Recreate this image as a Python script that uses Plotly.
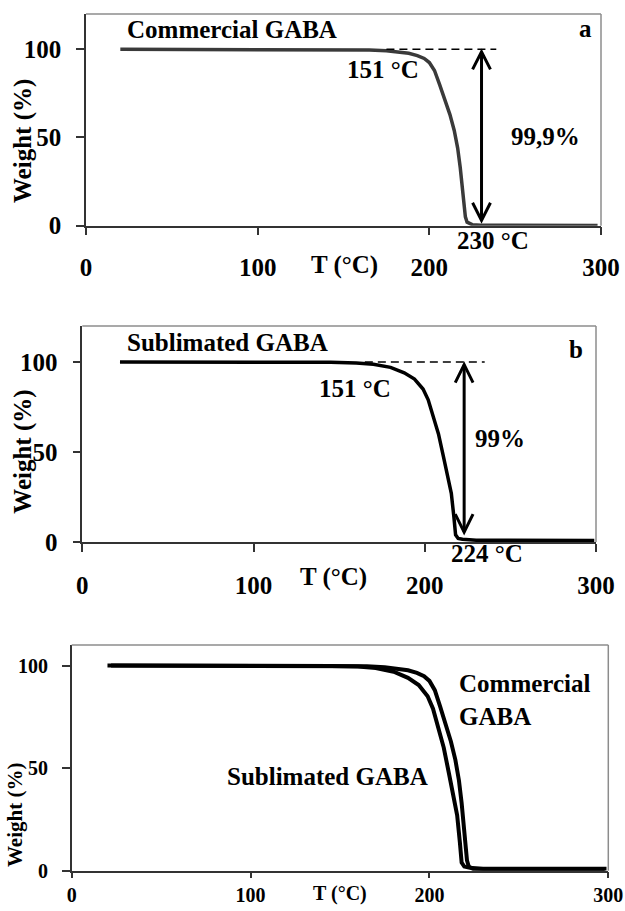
import plotly.graph_objects as go

# ---------------- data ----------------
T_commercial = [20, 60, 100, 130, 150, 165, 175, 182, 188, 193, 197, 200, 203, 206, 209, 212,
                214.5, 216.5, 218, 219.2, 220.2, 221, 222, 225, 230, 250, 270, 298]
W_commercial = [100, 100, 100, 100, 99.9, 99.6, 99.2, 98.6, 97.7, 96.4, 94.8, 92.5, 88, 80, 72, 63,
                54, 44, 33, 22, 12, 5, 2, 0.6, 0.3, 0.2, 0.2, 0.1]

T_sublimated = [22, 60, 100, 130, 145, 160, 170, 180, 188, 194, 199, 202, 205, 208, 211, 213.5,
                215.5, 217, 218, 219.5, 222, 230, 260, 299]
W_sublimated = [100, 100, 100, 99.9, 99.8, 99.5, 98.8, 97, 94, 90.5, 85, 79, 70, 60, 47, 37,
                27, 14, 4, 2, 1.5, 1.0, 0.9, 0.9]

x_ticks = [0, 100, 200, 300]
y_ticks = [0, 50, 100]

onset_T = 151
dash_a = [175, 239]
dash_b = [165, 235]
arrow_a = dict(T=230.4, top=98.6, bottom=3)
arrow_b = dict(T=223, top=98.5, bottom=5.5)

FONT = "Liberation Serif"
W, H = 625, 911

# pixel boxes of the three plot areas (left, right, top, bottom)
boxes = {
    "a": (86, 601, 14, 225.7),
    "b": (82.3, 596, 326, 542),
    "c": (71.7, 608.3, 645, 870.7),
}

fig = go.Figure()


def dom(box):
    l, r, t, b = box
    return [l / W, r / W], [1 - b / H, 1 - t / H]


axis_ids = {"a": ("x", "y", "xaxis", "yaxis"),
            "b": ("x2", "y2", "xaxis2", "yaxis2"),
            "c": ("x3", "y3", "xaxis3", "yaxis3")}
yranges = {"a": [0, 120], "b": [0, 120], "c": [0, 110]}
tick_size = {"a": 25, "b": 25, "c": 20}
xstand = {"a": 11, "b": 12, "c": 0}
xticklen = {"a": 8, "b": 8, "c": 6}

layout = dict(width=W, height=H, margin=dict(l=0, r=0, t=0, b=0),
              paper_bgcolor="white", plot_bgcolor="white", showlegend=False,
              font=dict(family=FONT, color="black"))

for p, box in boxes.items():
    xd, yd = dom(box)
    xr, yr, xa, ya = axis_ids[p]
    layout[xa] = dict(domain=xd, range=[0, 300], tickvals=x_ticks, ticks="outside", ticklen=xticklen[p],
                      tickwidth=1.5, tickcolor="#333", showline=True, linecolor="#333", linewidth=1.5,
                      showgrid=False, zeroline=False, anchor=yr, automargin=False,
                      ticklabelstandoff=xstand[p],
                      tickfont=dict(family=FONT, size=tick_size[p], color="black", weight="bold"))
    layout[ya] = dict(domain=yd, range=yranges[p], tickvals=y_ticks, ticks="outside", ticklen=8,
                      tickwidth=1.5, tickcolor="#333", showline=True, linecolor="#333", linewidth=1.5,
                      showgrid=False, zeroline=False, anchor=xr, automargin=False,
                      ticklabelstandoff=10,
                      tickfont=dict(family=FONT, size=tick_size[p], color="black", weight="bold"))

fig.update_layout(**layout)

# curves
fig.add_trace(go.Scatter(x=T_commercial, y=W_commercial, mode="lines", xaxis="x", yaxis="y",
                         line=dict(color="#3a3a3a", width=3.5), cliponaxis=False))
fig.add_trace(go.Scatter(x=T_sublimated, y=W_sublimated, mode="lines", xaxis="x2", yaxis="y2",
                         line=dict(color="black", width=3.5), cliponaxis=False))
fig.add_trace(go.Scatter(x=T_commercial, y=W_commercial, mode="lines", xaxis="x3", yaxis="y3",
                         line=dict(color="black", width=4), cliponaxis=False))
fig.add_trace(go.Scatter(x=T_sublimated, y=W_sublimated, mode="lines", xaxis="x3", yaxis="y3",
                         line=dict(color="black", width=4), cliponaxis=False))

shapes = []
# top / right border lines in gray
for p in boxes:
    xr, yr, _, _ = axis_ids[p]
    shapes.append(dict(type="line", xref=f"{xr} domain", yref=f"{yr} domain", x0=0, x1=1, y0=1, y1=1,
                       line=dict(color="#8c8c8c", width=1.5)))
    shapes.append(dict(type="line", xref=f"{xr} domain", yref=f"{yr} domain", x0=1, x1=1, y0=0, y1=1,
                       line=dict(color="#8c8c8c", width=1.5)))

# dashed reference lines
for (xr, yr, d) in [("x", "y", dash_a), ("x2", "y2", dash_b)]:
    shapes.append(dict(type="line", xref=xr, yref=yr, x0=d[0], x1=d[1], y0=100, y1=100,
                       line=dict(color="black", width=1.5, dash="8px,5px")))

# double arrows
for (xr, yr, ar) in [("x", "y", arrow_a), ("x2", "y2", arrow_b)]:
    t = ar["T"]
    shapes.append(dict(type="line", xref=xr, yref=yr, x0=t, x1=t, y0=ar["bottom"], y1=ar["top"],
                       line=dict(color="black", width=3)))
    hw, hh = 5.2, 10
    shapes.append(dict(type="path", xref=xr, yref=yr,
                       path=f"M {t - hw} {ar['top'] - hh} L {t} {ar['top']} L {t + hw} {ar['top'] - hh}",
                       line=dict(color="black", width=3)))
    shapes.append(dict(type="path", xref=xr, yref=yr,
                       path=f"M {t - hw} {ar['bottom'] + hh} L {t} {ar['bottom']} L {t + hw} {ar['bottom'] + hh}",
                       line=dict(color="black", width=3)))

fig.update_layout(shapes=shapes)


def txt(x, y, text, xr, yr, size=25, xanchor="center", align="center"):
    fig.add_annotation(x=x, y=y, xref=xr, yref=yr, text=text, showarrow=False,
                       xanchor=xanchor, yanchor="middle", align=align,
                       font=dict(family=FONT, size=size, color="black", weight="bold"))


def txt_px(px, py, text, size=25):
    fig.add_annotation(x=px / W, y=1 - py / H, xref="paper", yref="paper", text=text,
                       showarrow=False, xanchor="center", yanchor="middle",
                       font=dict(family=FONT, size=size, color="black", weight="bold"))


# panel a
txt(85.3, 111, "Commercial GABA", "x", "y")
txt(290.7, 112, "a", "x", "y")
txt(173, 88.3, f"{onset_T} °C", "x", "y")
txt(267.4, 50.3, "99,9%", "x", "y")
txt_px(493, 240, "230 °C")
txt_px(344, 265, "T (°C)")
# panel b
txt(85, 110.6, "Sublimated GABA", "x2", "y2")
txt(288.6, 106.8, "b", "x2", "y2")
txt(159.2, 85.5, f"{onset_T} °C", "x2", "y2")
txt(243.8, 57.7, "99%", "x2", "y2")
txt_px(486.7, 553.3, "224 °C")
txt_px(333, 576.7, "T (°C)")
# panel c
txt(215.2, 83.1, "Commercial<br>GABA", "x3", "y3", xanchor="left", align="left")
txt(142.8, 45.9, "Sublimated GABA", "x3", "y3")
txt_px(340, 893, "T (°C)", size=20)

# y axis titles
for (px, py, s) in [(23, 141, 25), (23, 451.7, 25), (15, 815, 21)]:
    fig.add_annotation(x=px / W, y=1 - py / H, xref="paper", yref="paper", text="Weight (%)",
                       textangle=-90, showarrow=False, xanchor="center", yanchor="middle",
                       font=dict(family=FONT, size=s, color="black", weight="bold"))

fig.write_html("out.html")
